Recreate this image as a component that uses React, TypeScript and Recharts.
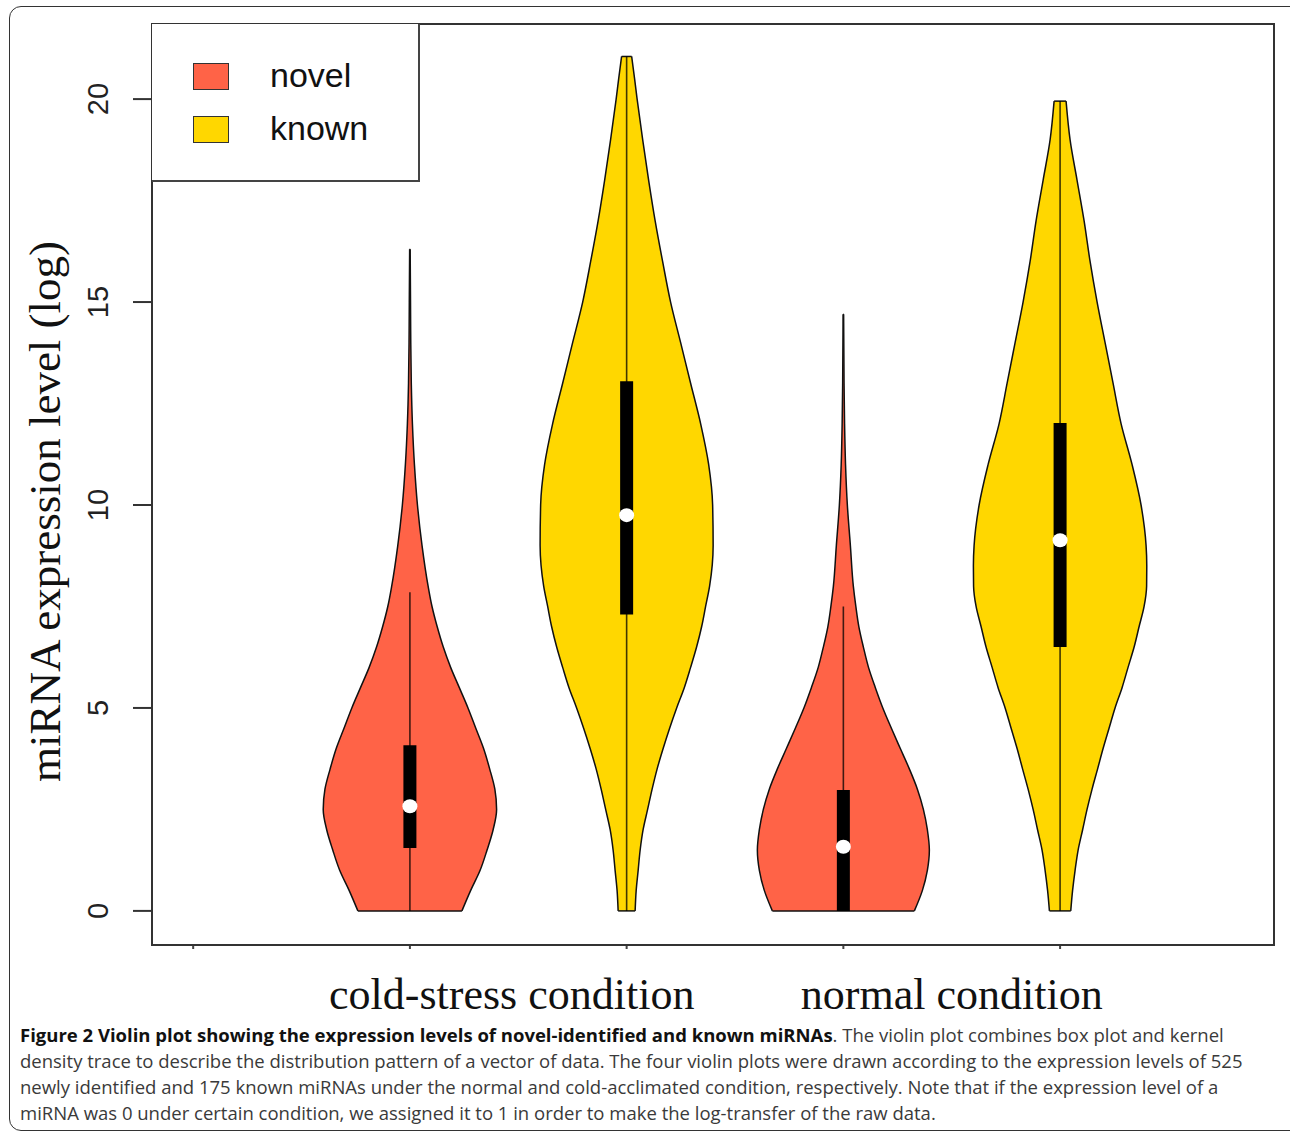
import React from 'react';
import {
  Area,
  ComposedChart,
  Legend,
  ReferenceArea,
  ReferenceLine,
  Scatter,
  XAxis,
  YAxis,
} from 'recharts';

// categories and series
const groupLabels = ['cold-stress condition', 'normal condition'];
const groupCenters = [1.47, 3.5];
const seriesNames = ['novel', 'known'];
const seriesColors = ['#FF6347', '#FFD700'];

// one violin per position; violinSeries points into seriesNames
const violinPositions = [1, 2, 3, 4];
const violinSeries = [0, 1, 0, 1];

// kernel density (relative to each violin's max) at given expression levels
const coldNovelLevels = [0, 0.5, 1, 1.5, 2, 2.5, 3, 3.5, 4, 4.5, 5, 5.5, 6, 6.5, 7, 7.5, 8, 9, 10, 11, 12, 13, 14, 15, 16.3];
const coldNovelDensity = [0.6, 0.7, 0.81, 0.89, 0.96, 1, 0.98, 0.92, 0.85, 0.76, 0.67, 0.57, 0.47, 0.385, 0.315, 0.255, 0.21, 0.14, 0.087, 0.052, 0.029, 0.016, 0.01, 0.007, 0.003];

const coldKnownLevels = [0, 0.5, 1, 1.5, 2, 2.5, 3, 3.5, 4, 4.5, 5, 5.5, 6, 6.5, 7, 7.5, 8, 9, 10, 11, 12, 13, 14, 15, 16, 17, 18, 19, 20, 20.5, 21.05];
const coldKnownDensity = [0.098, 0.11, 0.133, 0.156, 0.19, 0.242, 0.294, 0.352, 0.421, 0.496, 0.577, 0.665, 0.738, 0.807, 0.865, 0.911, 0.957, 0.998, 0.992, 0.946, 0.854, 0.738, 0.623, 0.507, 0.415, 0.329, 0.254, 0.185, 0.121, 0.092, 0.058];

const normalNovelLevels = [0, 0.5, 1, 1.5, 2, 2.5, 3, 3.5, 4, 4.5, 5, 5.5, 6, 6.5, 7, 7.5, 8, 9, 10, 11, 12, 13, 14.7];
const normalNovelDensity = [0.819, 0.911, 0.969, 0.992, 0.969, 0.923, 0.854, 0.761, 0.657, 0.554, 0.455, 0.369, 0.29, 0.231, 0.179, 0.144, 0.115, 0.081, 0.046, 0.025, 0.014, 0.008, 0.003];

const normalKnownLevels = [0, 0.5, 1, 1.5, 2, 2.5, 3, 3.5, 4, 4.5, 5, 5.5, 6, 6.5, 7, 7.5, 8, 8.5, 9, 10, 11, 12, 13, 14, 15, 16, 17, 18, 19, 19.95];
const normalKnownDensity = [0.123, 0.144, 0.173, 0.208, 0.26, 0.311, 0.369, 0.433, 0.496, 0.565, 0.634, 0.715, 0.784, 0.854, 0.911, 0.969, 0.998, 1, 0.992, 0.934, 0.83, 0.704, 0.611, 0.519, 0.427, 0.346, 0.277, 0.196, 0.115, 0.069];

const violinLevels = [coldNovelLevels, coldKnownLevels, normalNovelLevels, normalKnownLevels];
const violinDensity = [coldNovelDensity, coldKnownDensity, normalNovelDensity, normalKnownDensity];

// box plot stats
const boxLower = [1.55, 7.3, 0, 6.5];
const boxUpper = [4.08, 13.05, 2.98, 12.02];
const medians = [2.58, 9.75, 1.58, 9.13];
const whiskerLower = [0, 0, 0, 0];
const whiskerUpper = [7.85, 21.05, 7.5, 19.95];

const yTicks = [0, 5, 10, 15, 20];
const xTickMarks = [0, 1, 2, 3, 4];

const X_DOMAIN: [number, number] = [-0.19, 4.987];
const Y_DOMAIN: [number, number] = [-0.84, 21.85];
const HALF_WIDTH = 0.4;

const captionLines = [
  'density trace to describe the distribution pattern of a vector of data. The four violin plots were drawn according to the expression levels of 525',
  'newly identified and 175 known miRNAs under the normal and cold-acclimated condition, respectively. Note that if the expression level of a',
  'miRNA was 0 under certain condition, we assigned it to 1 in order to make the log-transfer of the raw data.',
];

const violins = violinPositions.map((pos, i) => ({
  pos,
  color: seriesColors[violinSeries[i]],
  data: violinLevels[i].map((y, j) => ({
    y,
    range: [pos - violinDensity[i][j] * HALF_WIDTH, pos + violinDensity[i][j] * HALF_WIDTH],
  })),
}));

const empty = () => <g />;

const XTick = (props: any) => {
  const { x, y, payload } = props;
  const idx = groupCenters.indexOf(payload.value);
  if (idx >= 0) {
    return (
      <text x={x} y={y + 64} textAnchor="middle" fontFamily="'Liberation Serif', serif" fontSize={44} fill="#111">
        {groupLabels[idx]}
      </text>
    );
  }
  return <line x1={x} x2={x} y1={y + 1} y2={y + 4} stroke="#444" strokeWidth={2} />;
};

const YTick = (props: any) => {
  const { x, y, payload } = props;
  const tx = x - 23;
  return (
    <text
      x={tx}
      y={y}
      transform={`rotate(-90, ${tx}, ${y})`}
      textAnchor="middle"
      fontFamily="'Liberation Sans', Arial, sans-serif"
      fontSize={29}
      fill="#222"
    >
      {payload.value}
    </text>
  );
};

const YLabel = (props: any) => {
  const vb = props.viewBox || { y: 24, height: 921 };
  const cy = vb.y + vb.height / 2 + 27;
  return (
    <text
      x={60}
      y={cy}
      transform={`rotate(-90, 60, ${cy})`}
      textAnchor="middle"
      fontFamily="'Liberation Serif', serif"
      fontSize={45}
      fill="#111"
    >
      miRNA expression level (log)
    </text>
  );
};

const LegendBox = () => (
  <div
    style={{
      position: 'relative',
      width: 268,
      height: 158,
      background: '#fff',
      borderRight: '2px solid #444',
      borderBottom: '2px solid #444',
      boxSizing: 'border-box',
      fontFamily: "'Liberation Sans', Arial, sans-serif",
      fontSize: 34,
      color: '#111',
    }}
  >
    {seriesNames.map((name, i) => (
      <div key={name} style={{ position: 'absolute', left: 0, top: 39 + i * 53, height: 28 }}>
        <div
          style={{
            position: 'absolute',
            left: 41,
            top: 0,
            width: 36,
            height: 27,
            background: seriesColors[i],
            border: '1.5px solid #333',
            boxSizing: 'border-box',
          }}
        />
        <div style={{ position: 'absolute', left: 118, top: -10, lineHeight: '44px', whiteSpace: 'nowrap' }}>{name}</div>
      </div>
    ))}
  </div>
);

export default function App() {
  return (
    <div style={{ position: 'absolute', left: 0, top: 0, width: 1290, height: 1133, overflow: 'hidden', background: '#fff' }}>
      <div
        style={{
          position: 'absolute',
          left: 9,
          top: 6,
          width: 1320,
          height: 1125,
          border: '1.5px solid #333',
          borderRadius: 12,
          boxSizing: 'border-box',
        }}
      />
      <div style={{ position: 'absolute', left: 0, top: 0 }}>
        <ComposedChart layout="vertical" width={1290} height={1030} margin={{ top: 24, right: 16, bottom: 0, left: 0 }}>
          <XAxis
            type="number"
            dataKey="x"
            domain={X_DOMAIN}
            allowDataOverflow
            ticks={[...xTickMarks, ...groupCenters].sort((a, b) => a - b)}
            interval={0}
            tick={<XTick />}
            tickSize={0}
            tickMargin={0}
            axisLine={false}
            height={85}
          />
          <YAxis
            type="number"
            dataKey="y"
            domain={Y_DOMAIN}
            reversed
            allowDataOverflow
            ticks={yTicks}
            interval={0}
            tick={<YTick />}
            tickSize={19}
            tickLine={{ stroke: '#333', strokeWidth: 2 }}
            axisLine={false}
            width={152}
            label={<YLabel />}
          />
          {violins.map((v, i) => (
            <Area
              key={`violin-${i}`}
              data={v.data}
              dataKey="range"
              type="monotone"
              fill={v.color}
              fillOpacity={1}
              stroke="#111"
              strokeWidth={1.5}
              dot={false}
              activeDot={false}
              isAnimationActive={false}
            />
          ))}
          {violins.map((v, i) => {
            const first = v.data[0];
            const last = v.data[v.data.length - 1];
            return (
              <React.Fragment key={`ends-${i}`}>
                <ReferenceLine
                  segment={[
                    { x: first.range[0], y: first.y },
                    { x: first.range[1], y: first.y },
                  ]}
                  stroke="#111"
                  strokeWidth={1.5}
                />
                <ReferenceLine
                  segment={[
                    { x: last.range[0], y: last.y },
                    { x: last.range[1], y: last.y },
                  ]}
                  stroke="#111"
                  strokeWidth={1.5}
                />
              </React.Fragment>
            );
          })}
          {violinPositions.map((pos, i) => (
            <Scatter
              key={`whisker-${i}`}
              data={[
                { x: pos, y: whiskerLower[i] },
                { x: pos, y: whiskerUpper[i] },
              ]}
              line={{ stroke: '#000', strokeWidth: 1.6, strokeOpacity: 0.75 }}
              shape={empty}
              isAnimationActive={false}
            />
          ))}
          {violinPositions.map((pos, i) => (
            <Scatter
              key={`box-${i}`}
              data={[
                { x: pos, y: boxLower[i] },
                { x: pos, y: boxUpper[i] },
              ]}
              line={{ stroke: '#000', strokeWidth: 13 }}
              shape={empty}
              isAnimationActive={false}
            />
          ))}
          {violinPositions.map((pos, i) => (
            <Scatter
              key={`median-${i}`}
              data={[{ x: pos, y: medians[i] }]}
              shape={(p: any) => <ellipse cx={p.cx} cy={p.cy} rx={7.5} ry={7} fill="#fff" />}
              isAnimationActive={false}
            />
          ))}
          <ReferenceArea
            x1={X_DOMAIN[0]}
            x2={X_DOMAIN[1]}
            y1={Y_DOMAIN[0]}
            y2={Y_DOMAIN[1]}
            fill="none"
            stroke="#333"
            strokeWidth={2}
            ifOverflow="visible"
          />
          <Legend
            layout="vertical"
            align="center"
            verticalAlign="middle"
            wrapperStyle={{ left: 152, top: 24, width: 268, height: 158 }}
            content={<LegendBox />}
          />
        </ComposedChart>
      </div>
      <div
        style={{
          position: 'absolute',
          left: 20,
          top: 1022,
          fontFamily: "'Open Sans', sans-serif",
          fontSize: 18.5,
          lineHeight: '26px',
          color: '#3a3a3a',
          whiteSpace: 'nowrap',
        }}
      >
        <div>
          <b style={{ color: '#111' }}>Figure 2 Violin plot showing the expression levels of novel-identified and known miRNAs</b>. The
          violin plot combines box plot and kernel
        </div>
        {captionLines.map((line) => (
          <div key={line}>{line}</div>
        ))}
      </div>
    </div>
  );
}
